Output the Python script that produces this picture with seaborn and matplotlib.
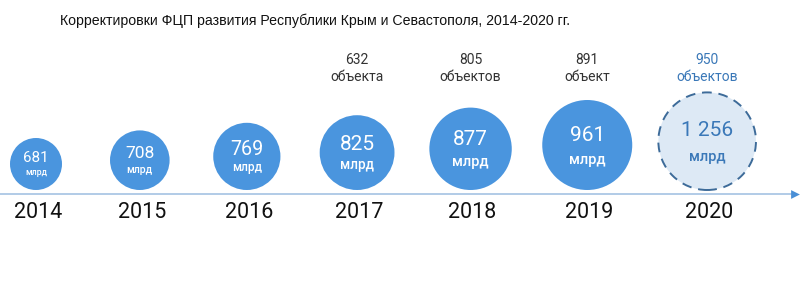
import numpy as np
import pandas as pd
import matplotlib
matplotlib.use("Agg")
import matplotlib.pyplot as plt
import seaborn as sns

# ---- data ----
title = "Корректировки ФЦП развития Республики Крым и Севастополя, 2014-2020 гг."
years = [2014, 2015, 2016, 2017, 2018, 2019, 2020]
amounts = [681, 708, 769, 825, 877, 961, 1256]
unit = "млрд"
objects = [None, None, None, 632, 805, 891, 950]
object_words = ["", "", "", "объекта", "объектов", "объект", "объектов"]
planned = [False, False, False, False, False, False, True]

sns.set_theme(style="white")
plt.rcParams["font.family"] = ["Roboto", "DejaVu Sans"]

W, H, DPI = 800, 300, 100
fig = plt.figure(figsize=(W / DPI, H / DPI), dpi=DPI)
ax = fig.add_axes([0, 0, 1, 1])
ax.set_axis_off()

# layout in pixel units (y downwards); spacing widens as circles grow
ax.set_xlim(0, W)
ax.set_ylim(H, 0)
idx = np.arange(len(years))
xpos = 36 + 102.2 * idx + 1.61 * idx ** 2
radius = 26 + 3.8 * idx
base_y = 190
line_y = 194
cy = base_y - radius
sizes = (2 * radius * 72 / DPI) ** 2

df = pd.DataFrame({"year": years, "x": xpos, "cy": cy, "s": sizes, "planned": planned})
done = df[~df["planned"]]
plan = df[df["planned"]]

blue = "#4a95de"
sns.scatterplot(x=done["x"], y=done["cy"], s=done["s"].values, color=blue,
                linewidth=0, ax=ax, legend=False, zorder=3)
sns.scatterplot(x=plan["x"], y=plan["cy"], s=plan["s"].values, color="#dde9f5",
                edgecolor="#3d6b99", linewidth=1.4, linestyle=(0, (5, 3.5)),
                ax=ax, legend=False, zorder=3)

# timeline with arrow
ax.plot([0, W - 6], [line_y, line_y], color="#9dbde0", lw=1.1, zorder=1)
ax.scatter([W - 5], [line_y], marker=">", s=40, color="#4a8fd6",
           linewidth=0, zorder=2)

for i, yr in enumerate(years):
    r = radius[i]
    xc = xpos[i]
    fs_num = min(0.42 * r, 15)
    fs_unit = min(0.3 * r - 1.5, 10.5)
    txt_col = "white" if not planned[i] else "#3a78b8"
    label = f"{amounts[i]:,}".replace(",", " ")
    ax.text(xc, cy[i] - 0.22 * r, label, ha="center", va="center",
            fontsize=fs_num, color=txt_col, zorder=4)
    ax.text(xc, cy[i] + 0.33 * r, unit, ha="center", va="center",
            fontsize=fs_unit, color=txt_col, fontweight="medium", zorder=4)
    ax.text(xc + 2, 213, str(yr), ha="center", va="center", fontsize=15.5,
            color="#111111", zorder=4)
    if objects[i] is not None:
        oc = "#3a78b8" if planned[i] else "#333333"
        ax.text(xc, 60, str(objects[i]), ha="center", va="center",
                fontsize=10, color=oc)
        ax.text(xc, 77, object_words[i], ha="center", va="center",
                fontsize=10, color=oc)

fig.text(60 / W, 1 - 21 / H, title, ha="left", va="center", fontsize=10.2,
         color="#111111", family=["Liberation Sans", "DejaVu Sans"])

fig.savefig("out.png", dpi=DPI, facecolor="white")
